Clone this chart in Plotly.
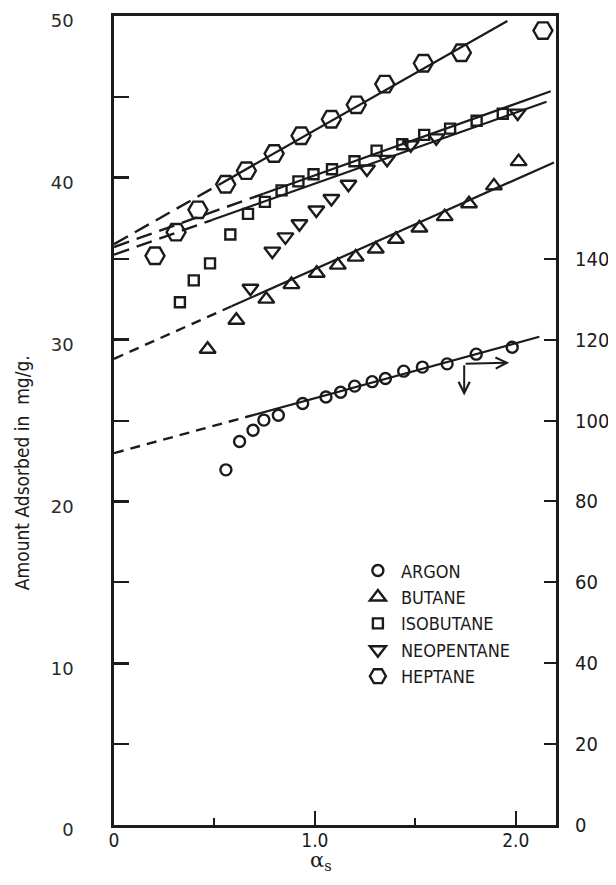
import plotly.graph_objects as go

# ---------------- data ----------------
argon_x = [0.557, 0.625, 0.692, 0.746, 0.818, 0.939, 1.055, 1.128, 1.198, 1.285, 1.351, 1.442, 1.535, 1.658, 1.803, 1.982]
argon_y = [87.8, 94.8, 97.6, 100.1, 101.3, 104.2, 105.8, 107.0, 108.5, 109.6, 110.4, 112.2, 113.2, 114.0, 116.4, 118.1]

butane_x = [0.466, 0.609, 0.758, 0.883, 1.009, 1.114, 1.203, 1.303, 1.403, 1.520, 1.646, 1.767, 1.891, 2.014]
butane_y = [29.4, 31.2, 32.5, 33.4, 34.1, 34.6, 35.1, 35.6, 36.2, 36.9, 37.6, 38.4, 39.5, 41.0]

isobutane_x = [0.328, 0.397, 0.478, 0.579, 0.667, 0.751, 0.834, 0.918, 0.993, 1.085, 1.197, 1.307, 1.435, 1.544, 1.673, 1.805, 1.935]
isobutane_y = [32.31, 33.66, 34.71, 36.50, 37.77, 38.51, 39.22, 39.78, 40.22, 40.53, 41.02, 41.68, 42.07, 42.65, 43.04, 43.53, 43.96]

neopentane_x = [0.679, 0.788, 0.853, 0.923, 1.007, 1.082, 1.167, 1.259, 1.359, 1.477, 1.604, 2.009]
neopentane_y = [33.17, 35.47, 36.35, 37.16, 38.01, 38.72, 39.60, 40.54, 41.14, 42.04, 42.47, 44.00]

heptane_x = [0.204, 0.309, 0.418, 0.556, 0.659, 0.797, 0.931, 1.082, 1.206, 1.348, 1.540, 1.729, 2.135]
heptane_y = [35.18, 36.64, 38.02, 39.60, 40.44, 41.50, 42.60, 43.62, 44.51, 45.79, 47.08, 47.73, 49.10]

# fitted straight lines: [start of dashed part, start of solid part, end]
heptane_fit_x = [0.0, 0.52, 1.958]
heptane_fit_y = [35.90, 39.56, 49.69]
isobutane_fit_x = [0.0, 0.743, 2.174]
isobutane_fit_y = [35.72, 39.01, 45.35]
neopentane_fit_x = [0.0, 0.487, 2.153]
neopentane_fit_y = [35.25, 37.39, 44.70]
butane_fit_x = [0.0, 0.585, 2.19]
butane_fit_y = [28.81, 32.06, 40.95]
argon_fit_x = [0.0, 0.692, 2.117]
argon_fit_y = [91.93, 101.34, 120.7]

# arrow pointing to right-hand axis (corner, end of down arrow, end of right arrow)
arrow_corner = (1.743, 114.0)
arrow_down_end = (1.743, 106.2)
arrow_right_end = (1.967, 114.3)

left_ticks = [0, 10, 20, 30, 40, 50]
right_ticks = [0, 20, 40, 60, 80, 100, 120, 140]
x_ticks = [0, 1, 2]
x_ticktext = ["0", "1.0", "2.0"]

INK = "#1b1b1b"
NARROW = "Liberation Sans Narrow, DejaVu Sans Condensed, Arial Narrow, sans-serif"

fig = go.Figure()

def add_fit(xs, ys, yaxis, dash):
    fig.add_trace(go.Scatter(x=xs[:2], y=ys[:2], mode="lines", yaxis=yaxis,
                             line=dict(color=INK, width=2.4, dash=dash),
                             showlegend=False, hoverinfo="skip"))
    fig.add_trace(go.Scatter(x=xs[1:], y=ys[1:], mode="lines", yaxis=yaxis,
                             line=dict(color=INK, width=2.2),
                             showlegend=False, hoverinfo="skip"))

add_fit(heptane_fit_x, heptane_fit_y, "y", "16px,8px")
add_fit(isobutane_fit_x, isobutane_fit_y, "y", "16px,8px")
add_fit(neopentane_fit_x, neopentane_fit_y, "y", "16px,8px")
add_fit(butane_fit_x, butane_fit_y, "y", "10px,7px")
add_fit(argon_fit_x, argon_fit_y, "y2", "10px,7px")

def add_pts(xs, ys, name, symbol, size, yaxis="y"):
    fig.add_trace(go.Scatter(x=xs, y=ys, mode="markers", name=name, yaxis=yaxis,
                             marker=dict(symbol=symbol, size=size, color=INK,
                                         line=dict(color=INK, width=2.4))))

add_pts(argon_x, argon_y, "ARGON", "circle-open", 11, "y2")
add_pts(butane_x, butane_y, "BUTANE", "triangle-up-open", 14)
add_pts(isobutane_x, isobutane_y, "ISOBUTANE", "square-open", 10)
add_pts(neopentane_x, neopentane_y, "NEOPENTANE", "triangle-down-open", 14)
add_pts(heptane_x, heptane_y, "HEPTANE", "hexagon2-open", 19)

# bent arrow
for end in (arrow_down_end, arrow_right_end):
    fig.add_annotation(x=end[0], y=end[1], xref="x", yref="y2",
                       ax=arrow_corner[0], ay=arrow_corner[1], axref="x", ayref="y2",
                       text="", showarrow=True, arrowhead=5, arrowsize=1.1,
                       arrowwidth=2, arrowcolor=INK)

# axis titles
fig.add_annotation(text="Amount Adsorbed in  mg/g.", xref="paper", yref="paper",
                   x=-0.208, y=0.435, xanchor="center", yanchor="middle",
                   textangle=-90, showarrow=False,
                   font=dict(family=NARROW, size=19, color=INK))
fig.add_annotation(text="α<sub>s</sub>", xref="paper", yref="paper",
                   x=0.468, y=-0.0635, xanchor="center", yanchor="bottom",
                   showarrow=False,
                   font=dict(family="DejaVu Serif", size=21, color=INK))

# the page body keeps an 8px margin, so the figure is 600x869 and the
# margins are reduced by 8px to keep the plot frame where it is in the reference
fig.update_layout(
    width=600, height=869,
    margin=dict(l=106, r=52, t=8, b=52, autoexpand=False),
    paper_bgcolor="white", plot_bgcolor="white",
    showlegend=True,
    legend=dict(x=0.545, y=0.337, xanchor="left", yanchor="top",
                bgcolor="rgba(0,0,0,0)", borderwidth=0, itemwidth=36,
                font=dict(family=NARROW, size=18, color=INK)),
    xaxis=dict(range=[0, 2.2], showgrid=False, zeroline=False, automargin=False,
               showline=True, linewidth=2.5, linecolor=INK, mirror=True,
               tickvals=x_ticks, ticktext=x_ticktext,
               ticks="inside", ticklen=14, tickwidth=2, tickcolor=INK,
               minor=dict(dtick=0.5, ticks="inside", ticklen=7, tickwidth=2, tickcolor=INK),
               ticklabelstandoff=-4, ticklabeloverflow="allow",
               tickfont=dict(family=NARROW, size=19, color=INK)),
    yaxis=dict(range=[0, 50], showgrid=False, zeroline=False, automargin=False,
               showline=True, linewidth=2.5, linecolor=INK, mirror=True,
               tickvals=left_ticks,
               ticks="inside", ticklen=15, tickwidth=2.5, tickcolor=INK,
               minor=dict(dtick=5, ticks="inside", ticklen=15, tickwidth=2, tickcolor=INK),
               ticklabelstandoff=34, ticklabelshift=5, ticklabeloverflow="allow",
               tickfont=dict(family="DejaVu Sans", size=18, color="#2a2a2a")),
    yaxis2=dict(range=[0, 200], overlaying="y", side="right", showgrid=False,
                zeroline=False, showline=False, automargin=False,
                tickvals=right_ticks,
                ticks="inside", ticklen=12, tickwidth=2, tickcolor=INK,
                ticklabelstandoff=18, ticklabeloverflow="allow",
                tickfont=dict(family=NARROW, size=20, color=INK)),
)

fig.write_html("out.html")
